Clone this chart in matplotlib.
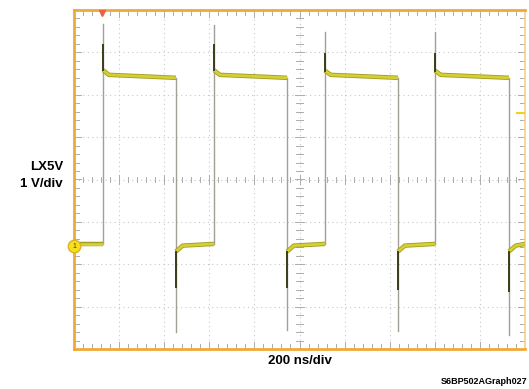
import matplotlib
matplotlib.use("Agg")
import matplotlib.pyplot as plt
import matplotlib.patheffects as pe
import numpy as np

plt.rcParams['font.family'] = ['Liberation Sans', 'DejaVu Sans']

# scope settings
ns_per_div = 200.0
v_per_div = 1.0
gnd_div = -1.58          # channel 1 ground marker position (div from centre)
trig_ns = 124.0          # trigger position marker
trig_level_v = 3.16      # trigger level marker

# LX5V switching node
rise_ns = [129, 621, 1113, 1601]
fall_ns = [452, 945, 1437, 1929]
rise_spike_v = [5.25, 5.23, 5.07, 5.05]
rise_dark_v = [4.75, 4.75, 4.55, 4.55]
fall_spike_v = [-2.02, -1.97, -1.99, -2.1]
fall_dark_v = [-0.95, -0.95, -1.0, -1.05]
high_start_v = [4.16, 4.16, 4.15, 4.15]
high_settle_v = [4.05, 4.05, 4.05, 4.05]
high_end_v = [3.98, 3.98, 3.98, 3.98]
high_settle_ns = 25
low_start_v = -0.12
low_settle_v = 0.02
low_end_v = 0.06
low_settle_ns = 30
end_ns = 2000


def to_x(t):
    return np.asarray(t, dtype=float) / ns_per_div


def to_y(v):
    return np.asarray(v, dtype=float) / v_per_div + gnd_div


fig = plt.figure(figsize=(5.29, 3.89), dpi=100)
ax = fig.add_axes([74 / 529, 1 - 349 / 389, 451 / 529, 339 / 389])
ax.set_xlim(0, 10)
ax.set_ylim(-4, 4)
ax.set_xticks([])
ax.set_yticks([])
for s in ax.spines.values():
    s.set_color('#f0a838')
    s.set_linewidth(2)
ax.spines['right'].set_color('#f6cf8c')
ax.spines['right'].set_linewidth(1.2)

# graticule
grid_kw = dict(color='#c8c8c8', lw=0.8, ls=(0, (1, 3)), zorder=1)
for i in range(1, 10):
    ax.plot([i, i], [-4, 4], **grid_kw)
for j in range(-3, 4):
    ax.plot([0, 10], [j, j], **grid_kw)

minor = np.arange(0, 10.01, 0.2)
minor_y = np.arange(-4, 4.01, 0.2)
tk = '#acacac'
for m in minor:
    ln = 0.1 if abs(m - round(m)) < 1e-6 else 0.07
    ax.plot([m, m], [-ln, ln], color=tk, lw=0.7, zorder=1)
    ax.plot([m, m], [4, 4 - ln * 1.6], color=tk, lw=0.7, zorder=1)
    ax.plot([m, m], [-4, -4 + ln * 1.6], color=tk, lw=0.7, zorder=1)
for m in minor_y:
    ln = 0.1 if abs(m - round(m)) < 1e-6 else 0.07
    ax.plot([5 - ln, 5 + ln], [m, m], color=tk, lw=0.7, zorder=1)
    ax.plot([0, ln * 1.6], [m, m], color=tk, lw=0.7, zorder=1)
    ax.plot([10, 10 - ln * 1.6], [m, m], color=tk, lw=0.7, zorder=1)

edge_col = '#a0a096'
dark_col = '#3c3c18'
trace_col = '#d4cf34'
trace_fx = [pe.Stroke(linewidth=3.2, foreground='#a09c20'), pe.Normal()]
seg_kw = dict(color=trace_col, lw=2.0, zorder=4, path_effects=trace_fx,
              solid_capstyle='butt', solid_joinstyle='round')

# first low segment before the first rising edge
ax.plot(to_x([0, rise_ns[0]]), to_y([low_end_v, low_end_v]), **seg_kw)

for k in range(len(rise_ns)):
    r, f = rise_ns[k], fall_ns[k]
    # rising edge + overshoot
    ax.plot(to_x([r, r]), to_y([low_end_v, rise_spike_v[k]]),
            color=edge_col, lw=1.0, zorder=3)
    ax.plot(to_x([r, r]), to_y([high_start_v[k], rise_dark_v[k]]),
            color=dark_col, lw=1.4, zorder=5)
    # high level
    ax.plot(to_x([r, r + high_settle_ns, f]),
            to_y([high_start_v[k], high_settle_v[k], high_end_v[k]]),
            **seg_kw)
    # falling edge + undershoot
    ax.plot(to_x([f, f]), to_y([high_end_v[k], fall_spike_v[k]]),
            color=edge_col, lw=1.0, zorder=3)
    ax.plot(to_x([f, f]), to_y([low_start_v, fall_dark_v[k]]),
            color=dark_col, lw=1.4, zorder=5)
    # low level
    nxt = rise_ns[k + 1] if k + 1 < len(rise_ns) else end_ns
    ax.plot(to_x([f, f + low_settle_ns, nxt]),
            to_y([low_start_v, low_settle_v, low_end_v]), **seg_kw)

# channel / trigger markers
ax.plot([0], [gnd_div], marker='o', ms=9, mfc='#f5e020', mec='#e0b020',
        clip_on=False, zorder=6)
ax.text(0, gnd_div, '1', fontsize=5, ha='center', va='center',
        color='#404000', zorder=7, clip_on=False)
ax.plot(to_x([trig_ns]), [3.93], marker='v', ms=4, color='#f06040',
        clip_on=False, zorder=6)
ax.plot([9.83, 9.97], to_y([trig_level_v, trig_level_v]), color='#f0d020',
        lw=1.5, clip_on=False, zorder=6)

# labels
fig.text(63 / 529, 1 - 167 / 389, 'LX5V', fontsize=9.5, fontweight='bold',
         ha='right', va='center')
fig.text(63 / 529, 1 - 184 / 389, '1 V/div', fontsize=9.5, fontweight='bold',
         ha='right', va='center')
fig.text(300 / 529, 1 - 361 / 389, '200 ns/div', fontsize=9.5,
         fontweight='bold', ha='center', va='center')
fig.text(527 / 529, 1 - 381 / 389, 'S6BP502AGraph027', fontsize=6.5,
         fontweight='bold', ha='right', va='center')

fig.savefig('out.png', dpi=100)
